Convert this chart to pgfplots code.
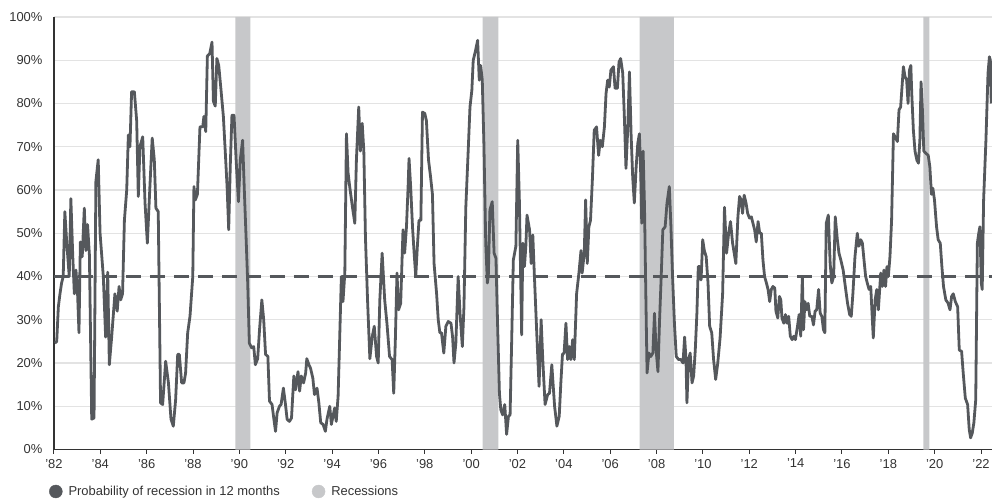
\documentclass[border=0pt]{standalone}
\usepackage{pgfplots}
\pgfplotsset{compat=1.18}
\usepackage{pgfplotstable}
\usepackage{fontspec}
\setmainfont{Liberation Sans}
\definecolor{cdark}{HTML}{55585C}
\definecolor{cshade}{HTML}{C7C8CA}
\definecolor{cgrid}{HTML}{E3E3E3}
\definecolor{ctext}{HTML}{333333}

\pgfplotstableread{
x y
1982.04 24.6
1982.12 25
1982.19 33
1982.26 36
1982.33 38.5
1982.40 40
1982.47 55
1982.55 48
1982.66 40
1982.73 58
1982.81 45
1982.88 36
1982.95 41.5
1983.02 36
1983.08 27
1983.14 48
1983.22 44.6
1983.31 55.8
1983.38 46
1983.45 52
1983.53 45
1983.63 7
1983.73 7.3
1983.81 62
1983.91 67
1983.99 50
1984.13 40
1984.23 26
1984.32 41
1984.39 19.6
1984.49 26
1984.63 36
1984.73 32
1984.81 37.7
1984.88 34.6
1984.96 36
1985.04 53
1985.14 60
1985.21 72.7
1985.28 70
1985.35 82.7
1985.47 82.7
1985.57 76
1985.64 58.5
1985.71 70
1985.83 72.3
1985.93 57
1986.03 47.7
1986.14 60.8
1986.24 72
1986.33 67
1986.40 55.8
1986.50 55
1986.60 10.8
1986.69 10.4
1986.82 20.4
1986.94 15.4
1987.05 7
1987.15 5.4
1987.25 11.5
1987.34 22
1987.41 22
1987.51 15.4
1987.61 15.4
1987.68 17.7
1987.77 27
1987.87 30.8
1987.99 40
1988.04 60.8
1988.10 57.7
1988.19 59
1988.30 74.6
1988.42 74.6
1988.47 77
1988.55 73.5
1988.62 91
1988.72 91.5
1988.82 94.2
1988.88 80.5
1988.96 79.4
1989.03 90.4
1989.11 88.8
1989.21 83
1989.31 77
1989.39 69
1989.47 60.8
1989.54 50.8
1989.61 66
1989.68 77.3
1989.77 77.3
1989.86 67
1989.96 57.3
1990.04 67
1990.14 71.5
1990.22 59
1990.29 49
1990.36 38.5
1990.43 24.6
1990.53 23.5
1990.62 23.8
1990.69 19.6
1990.79 21
1990.87 27.7
1990.97 34.6
1991.05 30
1991.13 22
1991.23 21.5
1991.30 11.2
1991.41 10.4
1991.49 7
1991.56 4.2
1991.63 8.5
1991.73 10
1991.80 10.4
1991.90 14.2
1991.99 10.4
1992.06 7
1992.16 6.5
1992.25 7.3
1992.35 17
1992.42 13.8
1992.53 18
1992.60 13.5
1992.67 17
1992.77 15.4
1992.86 17.7
1992.91 21
1993.00 19.6
1993.07 18.8
1993.17 16.5
1993.24 12.7
1993.35 14.2
1993.43 10.8
1993.51 6.2
1993.61 5.8
1993.71 4.2
1993.78 7
1993.90 10
1993.97 5.8
1994.04 7.7
1994.11 9.6
1994.18 6.5
1994.26 12.3
1994.33 26
1994.40 40
1994.47 34.2
1994.55 40.8
1994.62 73
1994.69 64
1994.76 60.8
1994.88 56
1994.98 52.3
1995.05 67
1995.15 79.2
1995.22 69
1995.30 75.4
1995.37 69
1995.44 49
1995.53 34.6
1995.63 21
1995.73 26
1995.82 28.5
1995.92 21.5
1995.99 20
1996.06 34.6
1996.16 45.4
1996.27 34.6
1996.37 29
1996.48 21.5
1996.59 20.8
1996.66 13
1996.73 25.4
1996.80 40.8
1996.87 32.3
1996.96 33.8
1997.06 50.8
1997.13 45.4
1997.21 51.5
1997.28 60.8
1997.32 67.3
1997.39 60.8
1997.47 51.5
1997.54 45.4
1997.61 40
1997.68 47
1997.75 53
1997.83 53
1997.90 78
1998.00 77.7
1998.07 76
1998.16 67
1998.25 63
1998.33 59
1998.40 43
1998.51 36
1998.58 30
1998.65 27
1998.72 27
1998.82 22.3
1998.91 28.5
1999.01 29.6
1999.13 29.2
1999.20 26
1999.26 20
1999.34 24.6
1999.44 40
1999.52 31.5
1999.62 23.8
1999.69 33
1999.77 56
1999.88 70
1999.95 79.2
2000.03 83
2000.09 90
2000.18 92
2000.28 94.6
2000.35 85.4
2000.41 88.8
2000.48 85.4
2000.55 70.8
2000.63 47.7
2000.70 38.5
2000.74 40
2000.81 55.4
2000.91 57.3
2000.99 45.4
2001.07 44.2
2001.15 27
2001.22 13
2001.28 9.2
2001.36 8
2001.45 10.4
2001.53 3.5
2001.61 7.7
2001.68 8
2001.75 25.4
2001.82 43.8
2001.93 47
2002.01 71.5
2002.08 57.7
2002.18 26.5
2002.23 47.7
2002.30 42.3
2002.36 47
2002.41 54.2
2002.52 50.8
2002.59 43
2002.66 49.6
2002.73 40
2002.83 27
2002.93 14.6
2003.02 30
2003.09 20.8
2003.19 10.4
2003.30 12.7
2003.38 13
2003.48 19.6
2003.60 10
2003.70 5.4
2003.80 7.7
2003.87 15.4
2003.94 22
2004.01 22.3
2004.09 29.2
2004.16 20.8
2004.23 23.8
2004.30 20.8
2004.38 25.4
2004.45 20.8
2004.55 36
2004.65 40.8
2004.74 46
2004.79 40.8
2004.88 45.4
2004.94 57.7
2005.01 43
2005.08 51.5
2005.15 53
2005.23 62.3
2005.31 73.8
2005.41 74.6
2005.50 68
2005.57 71.5
2005.66 70
2005.75 74.6
2005.82 82.3
2005.89 85.4
2005.96 83.8
2006.03 87.7
2006.14 88.5
2006.21 83.5
2006.31 83.5
2006.38 89.6
2006.45 90.4
2006.54 87
2006.61 77
2006.68 65
2006.76 74.6
2006.83 87.3
2006.90 73
2006.97 63
2007.04 57
2007.12 65.4
2007.19 70.8
2007.26 73
2007.32 63
2007.36 52.3
2007.42 69
2007.48 56
2007.54 34.6
2007.59 17.7
2007.67 22.3
2007.75 21.5
2007.84 22.3
2007.91 31.5
2007.98 23
2008.06 18
2008.13 30
2008.20 40
2008.27 50.8
2008.37 51.5
2008.45 57
2008.55 60.8
2008.62 51.5
2008.69 40
2008.77 29.2
2008.85 21.5
2008.95 20.8
2009.05 20.8
2009.14 20
2009.21 26
2009.27 20.8
2009.31 10.8
2009.38 20.8
2009.45 22.3
2009.53 15.4
2009.60 17
2009.67 23
2009.74 31.5
2009.80 42.3
2009.86 42.3
2009.92 39.2
2009.99 48.5
2010.06 46
2010.14 44.6
2010.22 38.5
2010.29 28.5
2010.38 27
2010.46 20.8
2010.55 16.2
2010.64 20
2010.74 25.8
2010.85 36
2010.93 56
2011.02 45.4
2011.11 50
2011.19 52.7
2011.28 47.7
2011.35 45.4
2011.42 43
2011.51 53.8
2011.58 58.5
2011.65 57.7
2011.71 54.6
2011.78 58.8
2011.86 57
2011.93 54.6
2012.01 53.5
2012.09 53.8
2012.16 52.3
2012.23 50.8
2012.30 48
2012.38 52.7
2012.45 50
2012.52 50
2012.59 43.8
2012.66 40
2012.74 38.5
2012.81 37
2012.88 34.2
2012.95 37
2013.02 37.7
2013.10 37.3
2013.15 32
2013.23 30.4
2013.30 35.4
2013.36 34.6
2013.41 30.4
2013.49 29.2
2013.56 31.2
2013.63 29.2
2013.70 30.8
2013.77 26.2
2013.85 25.4
2013.92 26.2
2013.99 25.4
2014.08 28.5
2014.15 31.2
2014.22 26.2
2014.29 40
2014.34 27.7
2014.40 34.2
2014.47 32.3
2014.54 33.8
2014.61 30.8
2014.70 30.8
2014.77 28.8
2014.84 32
2014.91 32.3
2014.99 37
2015.06 31.5
2015.13 30.8
2015.20 27.7
2015.26 27
2015.32 52.3
2015.41 54.2
2015.49 43
2015.56 38.5
2015.64 40
2015.71 53.8
2015.80 48.5
2015.87 45.4
2015.95 43.8
2016.05 41.5
2016.16 37
2016.24 33.8
2016.33 31.2
2016.40 30.8
2016.47 36
2016.56 44.6
2016.66 50
2016.73 47
2016.81 48.5
2016.88 47.7
2016.95 43.8
2017.02 40
2017.09 38.5
2017.17 37
2017.24 37.7
2017.31 30
2017.35 25.8
2017.43 34.6
2017.50 37
2017.57 32.3
2017.67 40.8
2017.74 37.7
2017.81 41.5
2017.88 37.7
2017.94 42.3
2018.00 40
2018.07 44.6
2018.14 53
2018.22 73
2018.29 72.3
2018.39 71.2
2018.46 78.5
2018.53 79.2
2018.61 85.4
2018.65 88.5
2018.72 86.2
2018.79 85.4
2018.85 80
2018.91 87.7
2018.97 88.8
2019.01 82.3
2019.08 73.8
2019.15 69
2019.23 66.9
2019.30 66.2
2019.36 71.5
2019.41 85
2019.47 78.5
2019.53 69
2019.62 68.5
2019.72 68
2019.79 65.4
2019.86 59
2019.92 60.4
2019.99 57.7
2020.08 51.5
2020.15 48.5
2020.24 47.7
2020.31 42.3
2020.38 37.7
2020.48 34.6
2020.58 33.8
2020.66 32.3
2020.73 35.4
2020.80 36
2020.89 34.2
2020.99 33
2021.06 23
2021.16 22.7
2021.23 17.7
2021.32 11.9
2021.42 10.4
2021.49 4.6
2021.55 2.7
2021.62 3.8
2021.69 6.2
2021.77 11.5
2021.84 47.7
2021.90 50
2021.95 51.5
2022.01 38.5
2022.05 37
2022.11 57.7
2022.21 71.5
2022.30 87
2022.36 90.8
2022.40 90
2022.44 80
}\probdata

\begin{document}
\begin{tikzpicture}
\begin{axis}[
  scale only axis, width=939bp, height=433bp,
  at={(0,0)}, anchor=south west,
  xmin=1982, xmax=2022.47, ymin=0, ymax=100,
  axis x line*=bottom, axis y line*=left,
  axis line style={color=ctext, line width=1.3bp},
  xtick={1982,1984,...,2022},
  xticklabels={'82,'84,'86,'88,'90,'92,'94,'96,'98,'00,'02,'04,'06,'08,'10,'12,'14,'16,'18,'20,'22},
  ytick={0,10,...,100},
  yticklabels={0\%,10\%,20\%,30\%,40\%,50\%,60\%,70\%,80\%,90\%,100\%},
  tick align=outside,
  xtick style={color=ctext, line width=1bp},
  major tick length=4bp,
  ytick style={draw=none},
  ymajorgrids,
  grid style={color=cgrid, line width=1.3bp},
  tick label style={font=\fontsize{13}{15}\selectfont, text=ctext},
  yticklabel style={xshift=-4bp},
  xticklabel style={yshift=-2bp},
  legend style={at={(0,0)}, anchor=west, xshift=-8bp, yshift=-42bp,
    draw=none, fill=none, font=\fontsize{13}{15}\selectfont, text=ctext,
    /tikz/every even column/.append style={column sep=30bp}},
  legend columns=2,
  legend cell align=left,
]
\addplot[fill=cshade, draw=none, forget plot] coordinates {(1989.83,0) (1989.83,100) (1990.48,100) (1990.48,0)} \closedcycle;
\addplot[fill=cshade, draw=none, forget plot] coordinates {(2000.50,0) (2000.50,100) (2001.17,100) (2001.17,0)} \closedcycle;
\addplot[fill=cshade, draw=none, forget plot] coordinates {(2007.27,0) (2007.27,100) (2008.75,100) (2008.75,0)} \closedcycle;
\addplot[fill=cshade, draw=none, forget plot] coordinates {(2019.51,0) (2019.51,100) (2019.77,100) (2019.77,0)} \closedcycle;
\addplot[color=cdark, line width=3bp, dash pattern=on 15bp off 9bp, forget plot] coordinates {(1982,40) (2022.47,40)};
\addplot[color=cdark, line width=2.8bp, line join=round, forget plot] table[x=x, y=y] {\probdata};
\addlegendimage{legend image code/.code={\fill[cdark] (6.5bp,0) circle (6.5bp); \path (17bp,0);}}
\addlegendentry{Probability of recession in 12 months}
\addlegendimage{legend image code/.code={\fill[cshade] (6.5bp,0) circle (6.5bp); \path (17bp,0);}}
\addlegendentry{Recessions}
\end{axis}
\path (-54bp,-52bp) rectangle (939bp,450bp);
\end{tikzpicture}
\end{document}
